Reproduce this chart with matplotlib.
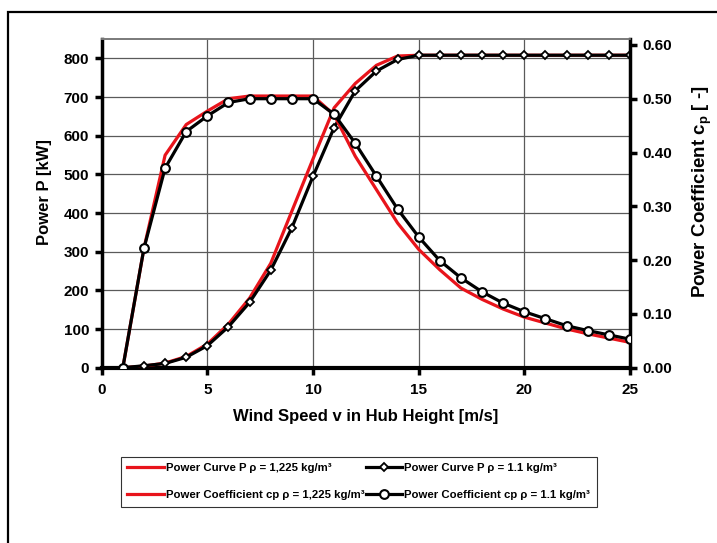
import matplotlib
matplotlib.use('Agg')
import matplotlib.pyplot as plt
from matplotlib.lines import Line2D
from matplotlib.patches import Rectangle

plt.rcParams['font.family'] = ['Liberation Sans', 'DejaVu Sans']
plt.rcParams['mathtext.fontset'] = 'custom'
plt.rcParams['mathtext.rm'] = 'Liberation Sans:bold'
plt.rcParams['mathtext.bf'] = 'Liberation Sans:bold'
plt.rcParams['mathtext.it'] = 'Liberation Sans:bold'

# ---- data ----
wind_speed = list(range(1, 26))
power_1225 = [0, 4, 12, 29, 61, 113, 180, 270, 405, 540, 672, 735, 782, 806, 808,
              808, 808, 808, 808, 808, 808, 808, 808, 808, 808]
power_11 = [0, 5, 11, 27, 57, 106, 169, 252, 362, 495, 621, 716, 767, 797, 808,
            808, 808, 808, 808, 808, 808, 808, 808, 808, 808]
cp_1225 = [0, 0.222, 0.395, 0.452, 0.477, 0.500, 0.505, 0.505, 0.505, 0.505,
           0.470, 0.393, 0.331, 0.269, 0.220, 0.182, 0.148, 0.127, 0.109, 0.094,
           0.083, 0.072, 0.063, 0.055, 0.047]
cp_11 = [0, 0.222, 0.371, 0.439, 0.468, 0.493, 0.500, 0.500, 0.500, 0.500,
         0.471, 0.417, 0.356, 0.295, 0.243, 0.199, 0.167, 0.141, 0.120, 0.104,
         0.091, 0.078, 0.069, 0.061, 0.053]

x_ticks = [0, 5, 10, 15, 20, 25]
p_ticks = [0, 100, 200, 300, 400, 500, 600, 700, 800]
cp_ticks = [0.0, 0.1, 0.2, 0.3, 0.4, 0.5, 0.6]

labels = ['Power Curve P \u03c1 = 1,225 kg/m\u00b3',
          'Power Coefficient cp \u03c1 = 1,225 kg/m\u00b3',
          'Power Curve P \u03c1 = 1.1 kg/m\u00b3',
          'Power Coefficient cp \u03c1 = 1.1 kg/m\u00b3']

W, H = 717, 543
fig = plt.figure(figsize=(W / 100, H / 100), dpi=100)
L, R, T, B = 101.7, 630, 39, 367.7
ax = fig.add_axes([L / W, 1 - B / H, (R - L) / W, (B - T) / H])
ax2 = ax.twinx()

RED = '#e8141b'
lw = 2.3

ax.plot(wind_speed, power_1225, color=RED, lw=lw, zorder=3)
ax2.plot(wind_speed, cp_1225, color=RED, lw=lw, zorder=3)
ax.plot(wind_speed, power_11, color='black', lw=lw, marker='D', ms=4.5,
        mfc='white', mec='black', mew=1.3, zorder=4)
ax2.plot(wind_speed, cp_11, color='black', lw=lw, marker='o', ms=6.3,
         mfc='white', mec='black', mew=1.5, zorder=4)

ax.set_xlim(0, 25)
ax.set_ylim(0, 850)
ax2.set_ylim(0, 0.611)
ax.set_xticks(x_ticks)
ax.set_yticks(p_ticks)
ax2.set_yticks(cp_ticks)
ax2.set_yticklabels([f'{v:.2f}' for v in cp_ticks])

ax.grid(True, color='#5a5a5a', lw=0.9)
ax.set_axisbelow(True)

for a in (ax, ax2):
    for s in a.spines.values():
        s.set_color('black')
    a.spines['top'].set_color('#7a7a7a')
    a.spines['top'].set_linewidth(1.2)
ax.spines['left'].set_linewidth(2.5)
ax.spines['bottom'].set_linewidth(3.0)
ax2.spines['right'].set_linewidth(2.5)
ax2.spines['left'].set_visible(False)
ax2.spines['bottom'].set_visible(False)
ax.spines['right'].set_visible(False)

ax.tick_params(axis='both', direction='out', length=5, width=2.5, pad=4)
ax.tick_params(axis='x', pad=6)
ax2.tick_params(axis='y', direction='out', length=5, width=2.5, pad=4)
for lab in ax.get_xticklabels() + ax.get_yticklabels() + ax2.get_yticklabels():
    lab.set_fontsize(11)
    lab.set_fontweight('bold')

ax.set_xlabel('Wind Speed v in Hub Height [m/s]', fontsize=12, fontweight='bold', labelpad=9)
ax.set_ylabel('Power P [kW]', fontsize=12, fontweight='bold')
ax2.set_ylabel(r'Power Coefficient c$_\mathbf{p}$ [ -]', fontsize=13.5, fontweight='bold')
ax.yaxis.set_label_coords(-0.094, 0.535)
ax2.yaxis.set_label_coords(1.115, 0.535)

handles = [Line2D([], [], color=RED, lw=lw),
           Line2D([], [], color=RED, lw=lw),
           Line2D([], [], color='black', lw=lw, marker='D', ms=4.5, mfc='white', mec='black', mew=1.3),
           Line2D([], [], color='black', lw=lw, marker='o', ms=6.3, mfc='white', mec='black', mew=1.5)]
leg = fig.legend(handles, labels, ncol=2, loc='upper left',
                 bbox_to_anchor=(121 / W, 1 - 457 / H),
                 prop={'size': 8.2, 'weight': 'bold'},
                 frameon=True, fancybox=False, edgecolor='black',
                 handlelength=3.2, handletextpad=0.2, columnspacing=0.1,
                 labelspacing=1.5, borderpad=0.55, borderaxespad=0)
leg.get_frame().set_linewidth(0.8)

fig.patches.append(Rectangle((8 / W, -0.2), 2.0, 1 - 12 / H + 0.2,
                             transform=fig.transFigure, fill=False,
                             edgecolor='black', lw=1.6))

fig.savefig('out.png', dpi=100)
